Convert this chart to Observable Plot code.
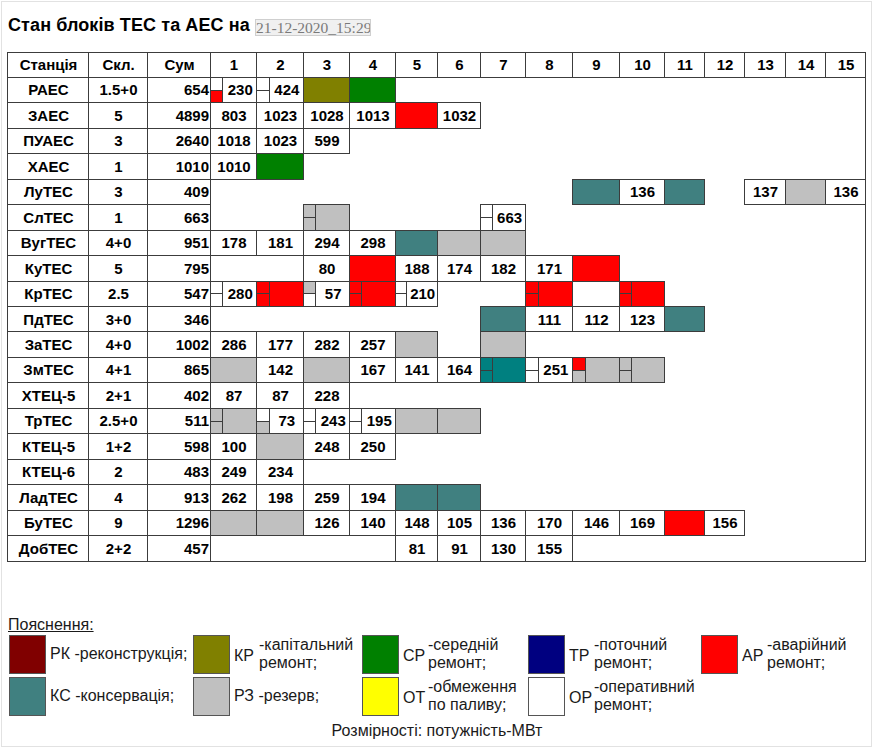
<!DOCTYPE html>
<html><head><meta charset="utf-8">
<script src="https://cdn.jsdelivr.net/npm/d3@7"></script>
<script src="https://cdn.jsdelivr.net/npm/@observablehq/plot@0.6"></script>
<style>
body{margin:0;background:#fff;font-family:"Liberation Sans",Arial,sans-serif;}
#page{position:relative;width:874px;height:749px;overflow:hidden;background:#fff;}
#frame{position:absolute;left:1px;top:1px;width:869px;height:744px;border:1px solid #e2e2e2;}
#title{position:absolute;left:8px;top:15px;font-weight:bold;font-size:18px;line-height:20px;color:#000;white-space:nowrap;letter-spacing:0.1px;}
#date{position:absolute;left:255px;top:19px;width:114px;height:15px;border:1px solid #cfcfcf;background:#f0f0f0;white-space:nowrap;overflow:hidden;
  font-family:"Liberation Serif","Times New Roman",serif;font-size:15.5px;line-height:16px;color:#7a7a7a;text-align:center;}
#chart{position:absolute;left:0;top:46px;}
.lg{position:absolute;font-size:16px;line-height:18px;color:#1a1a1a;white-space:nowrap;}
.sw{position:absolute;width:35px;height:37px;border:1px solid #555;}
</style></head>
<body><div id="page"><div id="frame"></div>
<div id="title">Стан блоків ТЕС та АЕС на</div>
<div id="date">21-12-2020_15:29</div>
<div id="chart"></div>
<div id="legend"></div>
</div>
<script>
// ---- data ----
const headers = ["Станція","Скл.","Сум","1","2","3","4","5","6","7","8","9","10","11","12","13","14","15"];
const stations = ["РАЕС","ЗАЕС","ПУАЕС","ХАЕС","ЛуТЕС","СлТЕС","ВугТЕС","КуТЕС","КрТЕС","ПдТЕС","ЗаТЕС","ЗмТЕС","ХТЕЦ-5","ТрТЕС","КТЕЦ-5","КТЕЦ-6","ЛадТЕС","БуТЕС","ДобТЕС"];
const composition = ["1.5+0","5","3","1","3","1","4+0","5","2.5","3+0","4+0","4+1","2+1","2.5+0","1+2","2","4","9","2+2"];
const totals = [654,4899,2640,1010,409,663,951,795,547,346,1002,865,402,511,598,483,913,1296,457];
// unit states: number = working (MW), code = state, "top/bottom|main" = split cell
const units = [
  ["ОР/АР|230","ОР/ОР|424","КР","СР"],
  ["803","1023","1028","1013","АР","1032"],
  ["1018","1023","599"],
  ["1010","СР"],
  ["","","","","","","","","КС","136","КС","","137","РЗ","136"],
  ["","","РЗ/РЗ|РЗ","","","","ОР/ОР|663"],
  ["178","181","294","298","КС","РЗ","РЗ"],
  ["","","80","АР","188","174","182","171","АР"],
  ["ОР/ОР|280","АР/АР|АР","РЗ/ОР|57","АР/АР|АР","ОР/ОР|210","","","АР/АР|АР","ОР","АР/АР|АР"],
  ["","","","","","","КС","111","112","123","КС"],
  ["286","177","282","257","РЗ","","РЗ"],
  ["РЗ","142","РЗ","167","141","164","КС*/КС*|КС*","ОР/ОР|251","АР/РЗ|РЗ","РЗ/РЗ|РЗ"],
  ["87","87","228"],
  ["РЗ/РЗ|РЗ","ОР/РЗ|73","ОР/ОР|243","ОР/ОР|195","РЗ","РЗ"],
  ["100","РЗ","248","250"],
  ["249","234"],
  ["262","198","259","194","КС","КС"],
  ["РЗ","РЗ","126","140","148","105","136","170","146","169","АР","156"],
  ["","","","","81","91","130","155"]
];
const legendCodes = ["РК","КР","СР","ТР","АР","КС","РЗ","ОТ","ОР"];
const legendLabels = ["-реконструкція;","-капітальний\nремонт;","-середній\nремонт;","-поточний\nремонт;","-аварійний\nремонт;",
  "-консервація;","-резерв;","-обмеження\nпо паливу;","-оперативний\nремонт;"];
const stateColors = {"РК":"#800000","КР":"#808000","СР":"#008000","ТР":"#000080","АР":"#ff0000",
  "КС":"#408080","КС*":"#008080","РЗ":"#c0c0c0","ОТ":"#ffff00","ОР":"#ffffff"};

// ---- build cells ----
const SPLIT = 0.27;
const cells = [], labels = [];
units.forEach((row, i) => {
  const r = i + 1;
  row.forEach((s, j) => {
    if (!s) return;
    const c = j + 3;
    let main = s, x1 = c;
    if (s.includes("|")) {
      const [sub, m] = s.split("|");
      const [top, bot] = sub.split("/");
      cells.push({x1: c, x2: c + SPLIT, y1: r, y2: r + 0.5, code: top});
      cells.push({x1: c, x2: c + SPLIT, y1: r + 0.5, y2: r + 1, code: bot});
      main = m; x1 = c + SPLIT;
    }
    const isNum = /^\d+$/.test(main);
    cells.push({x1, x2: c + 1, y1: r, y2: r + 1, code: isNum ? "ОР" : main});
    if (isNum) labels.push({x: (x1 + c + 1) / 2, y: r + 0.5, text: main});
  });
});
const headerCells = headers.map((h, k) => ({x1: k, x2: k + 1, y1: 0, y2: 1, text: h}));
const leftCells = [];
stations.forEach((s, i) => { for (let k = 0; k < 3; k++) leftCells.push({x1: k, x2: k + 1, y1: i + 1, y2: i + 2}); });

const edges = [7.5, 88.5, 147.5, 210.5, 256.5, 303.5, 349.5, 395.5, 437.5, 480.5, 525.5, 572.5, 619.5, 664.5, 704.5, 744.5, 785.5, 825.5, 865.5];
const stroke = "#3c3c3c";
const chart = Plot.plot({
  width: 874, height: 520, margin: 0,
  x: {type: "linear", domain: d3.range(19), range: edges, axis: null},
  y: {type: "linear", domain: [0, 20], range: [6, 515], axis: null},
  style: {fontFamily: "'Liberation Sans', Arial, sans-serif", fontSize: "15px", fontWeight: "bold", color: "#000", background: "transparent"},
  marks: [
    Plot.rect(headerCells, {x1: "x1", x2: "x2", y1: "y1", y2: "y2", fill: "#fff", stroke, shapeRendering: "crispEdges"}),
    Plot.rect(leftCells, {x1: "x1", x2: "x2", y1: "y1", y2: "y2", fill: "#fff", stroke, shapeRendering: "crispEdges"}),
    Plot.rect(cells, {x1: "x1", x2: "x2", y1: "y1", y2: "y2", fill: d => stateColors[d.code], stroke, shapeRendering: "crispEdges"}),
    Plot.rect([0], {x1: 0, x2: 18, y1: 0, y2: 20, fill: "none", stroke, shapeRendering: "crispEdges"}),
    Plot.text(headerCells, {x: d => d.x1 + 0.5, y: 0.5, text: "text", fill: "#000"}),
    Plot.text(stations, {x: 0.5, y: (d, i) => i + 1.5, text: d => d, fill: "#000"}),
    Plot.text(composition, {x: 1.5, y: (d, i) => i + 1.5, text: d => d, fill: "#000"}),
    Plot.text(totals, {x: 3, y: (d, i) => i + 1.5, text: d => String(d), textAnchor: "end", dx: -2, fill: "#000"}),
    Plot.text(labels, {x: "x", y: "y", text: "text", fill: "#000"})
  ]
});
document.getElementById("chart").appendChild(chart);

// ---- legend ----
const lg = document.getElementById("legend");
const add = (cls, css, html) => { const e = document.createElement("div"); e.className = cls; e.style.cssText = css; e.textContent = html; lg.appendChild(e); return e; };
add("lg", "left:8px;top:616px;text-decoration:underline;", "Пояснення:");
const colX = [9, 193, 362, 528, 701];
const rowY = [635, 677];
legendCodes.forEach((code, i) => {
  const row = i < 5 ? 0 : 1, col = i < 5 ? i : i - 5;
  const sx = colX[col], sy = rowY[row];
  add("sw", `left:${sx}px;top:${sy}px;background:${stateColors[code]};`, "");
  const lab = legendLabels[i];
  const cy = sy + 19;
  if (lab.includes("\n")) {
    add("lg", `left:${sx + 41}px;top:${cy - 7}px;`, code);
    const d = add("lg", `left:${sx + 66}px;top:${cy - 18}px;`, "");
    d.innerHTML = lab.split("\n").join("<br>");
  } else {
    add("lg", `left:${sx + 41}px;top:${cy - 9}px;`, code + " " + lab);
  }
});
add("lg", "left:0;width:874px;text-align:center;top:722px;", "Розмірності: потужність-МВт");
</script>
</body></html>
